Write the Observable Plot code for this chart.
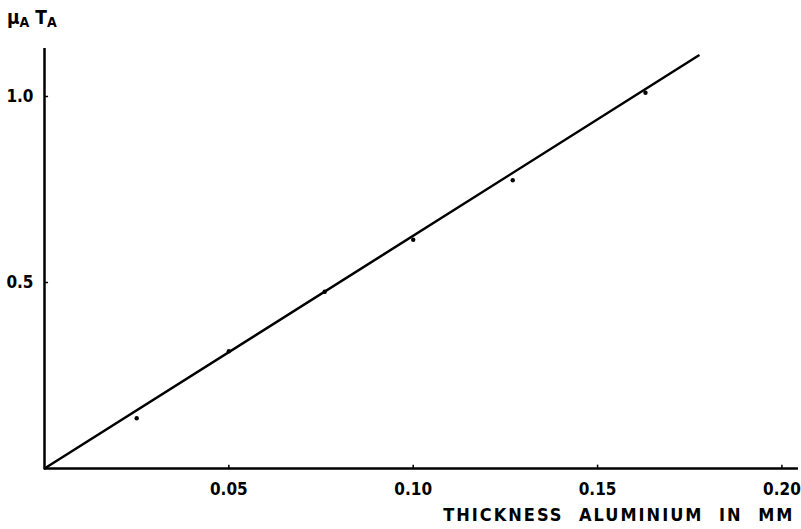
<!DOCTYPE html>
<html>
<head>
<meta charset="utf-8">
<script src="https://cdn.jsdelivr.net/npm/d3@7"></script>
<script src="https://cdn.jsdelivr.net/npm/@observablehq/plot@0.6"></script>
<style>
  html, body { margin: 0; padding: 0; background: #fff; }
  #chart svg { display: block; }
  .xtitle text { letter-spacing: 2px; word-spacing: 8px; }
</style>
</head>
<body>
<div id="chart"></div>
<script>
// Measured points (thickness in mm, muA*tA)
const thickness = [0.025, 0.05, 0.076, 0.10, 0.127, 0.163];
const muT = [0.135, 0.315, 0.475, 0.615, 0.775, 1.01];
// Fitted straight line through origin (end points)
const fitX = [0, 0.1774];
const fitY = [0, 1.11];
// Tick values and labels
const xTicks = [0.05, 0.10, 0.15, 0.20];
const yTicks = [0.5, 1.0];
const xTitle = "THICKNESS ALUMINIUM IN MM";

const points = thickness.map((x, i) => ({x, y: muT[i]}));
const fit = fitX.map((x, i) => ({x, y: fitY[i]}));

const font = "'DejaVu Sans Condensed', 'Liberation Sans Narrow', 'Roboto Condensed', sans-serif";

const chart = Plot.plot({
  width: 801,
  height: 529,
  marginLeft: 44,
  marginRight: 3,
  marginTop: 48,
  marginBottom: 61,
  style: {fontFamily: font, fontWeight: "bold", fontSize: "17px", color: "#000", background: "#fff", fontStretch: "condensed"},
  x: {domain: [0, 0.2045]},
  y: {domain: [0, 1.129]},
  marks: [
    Plot.axisX({ticks: xTicks, tickFormat: d3.format(".2f"), tickSize: 0, tickPadding: 14, label: null, fontSize: 17}),
    Plot.axisY({ticks: yTicks, tickFormat: d3.format(".1f"), tickSize: 0, tickPadding: 11, label: null, fontSize: 17}),
    Plot.ruleX(xTicks, {x: d => d, y1: 0, y2: 0.009, stroke: "#000", strokeWidth: 1.5}),
    Plot.ruleY(yTicks, {y: d => d, x1: 0, x2: 0.0011, stroke: "#000", strokeWidth: 1.5}),
    Plot.ruleY([0], {stroke: "#000", strokeWidth: 2.5}),
    Plot.ruleX([0], {stroke: "#000", strokeWidth: 2.5}),
    Plot.line(fit, {x: "x", y: "y", stroke: "#000", strokeWidth: 2.5}),
    Plot.dot(points, {x: "x", y: "y", r: 2.2, fill: "#000", stroke: null}),
    Plot.text([xTitle], {frameAnchor: "bottom-right", dy: 52, dx: -4, textAnchor: "end", fontSize: 18, fontWeight: "bold", className: "xtitle"})
  ]
});

document.getElementById("chart").appendChild(chart);

// Y axis label with subscripts
const svg = d3.select(chart);
const lab = svg.append("text")
  .attr("x", 7)
  .attr("y", 24)
  .attr("text-anchor", "start")
  .attr("font-family", font)
  .attr("font-weight", "bold")
  .attr("font-size", 19)
  .attr("fill", "#000");
lab.append("tspan").text("μ");
lab.append("tspan").attr("font-size", 14).attr("dy", 3).text("A");
lab.append("tspan").attr("dx", 6).attr("dy", -3).text("T");
lab.append("tspan").attr("font-size", 14).attr("dy", 3).text("A");
</script>
</body>
</html>
